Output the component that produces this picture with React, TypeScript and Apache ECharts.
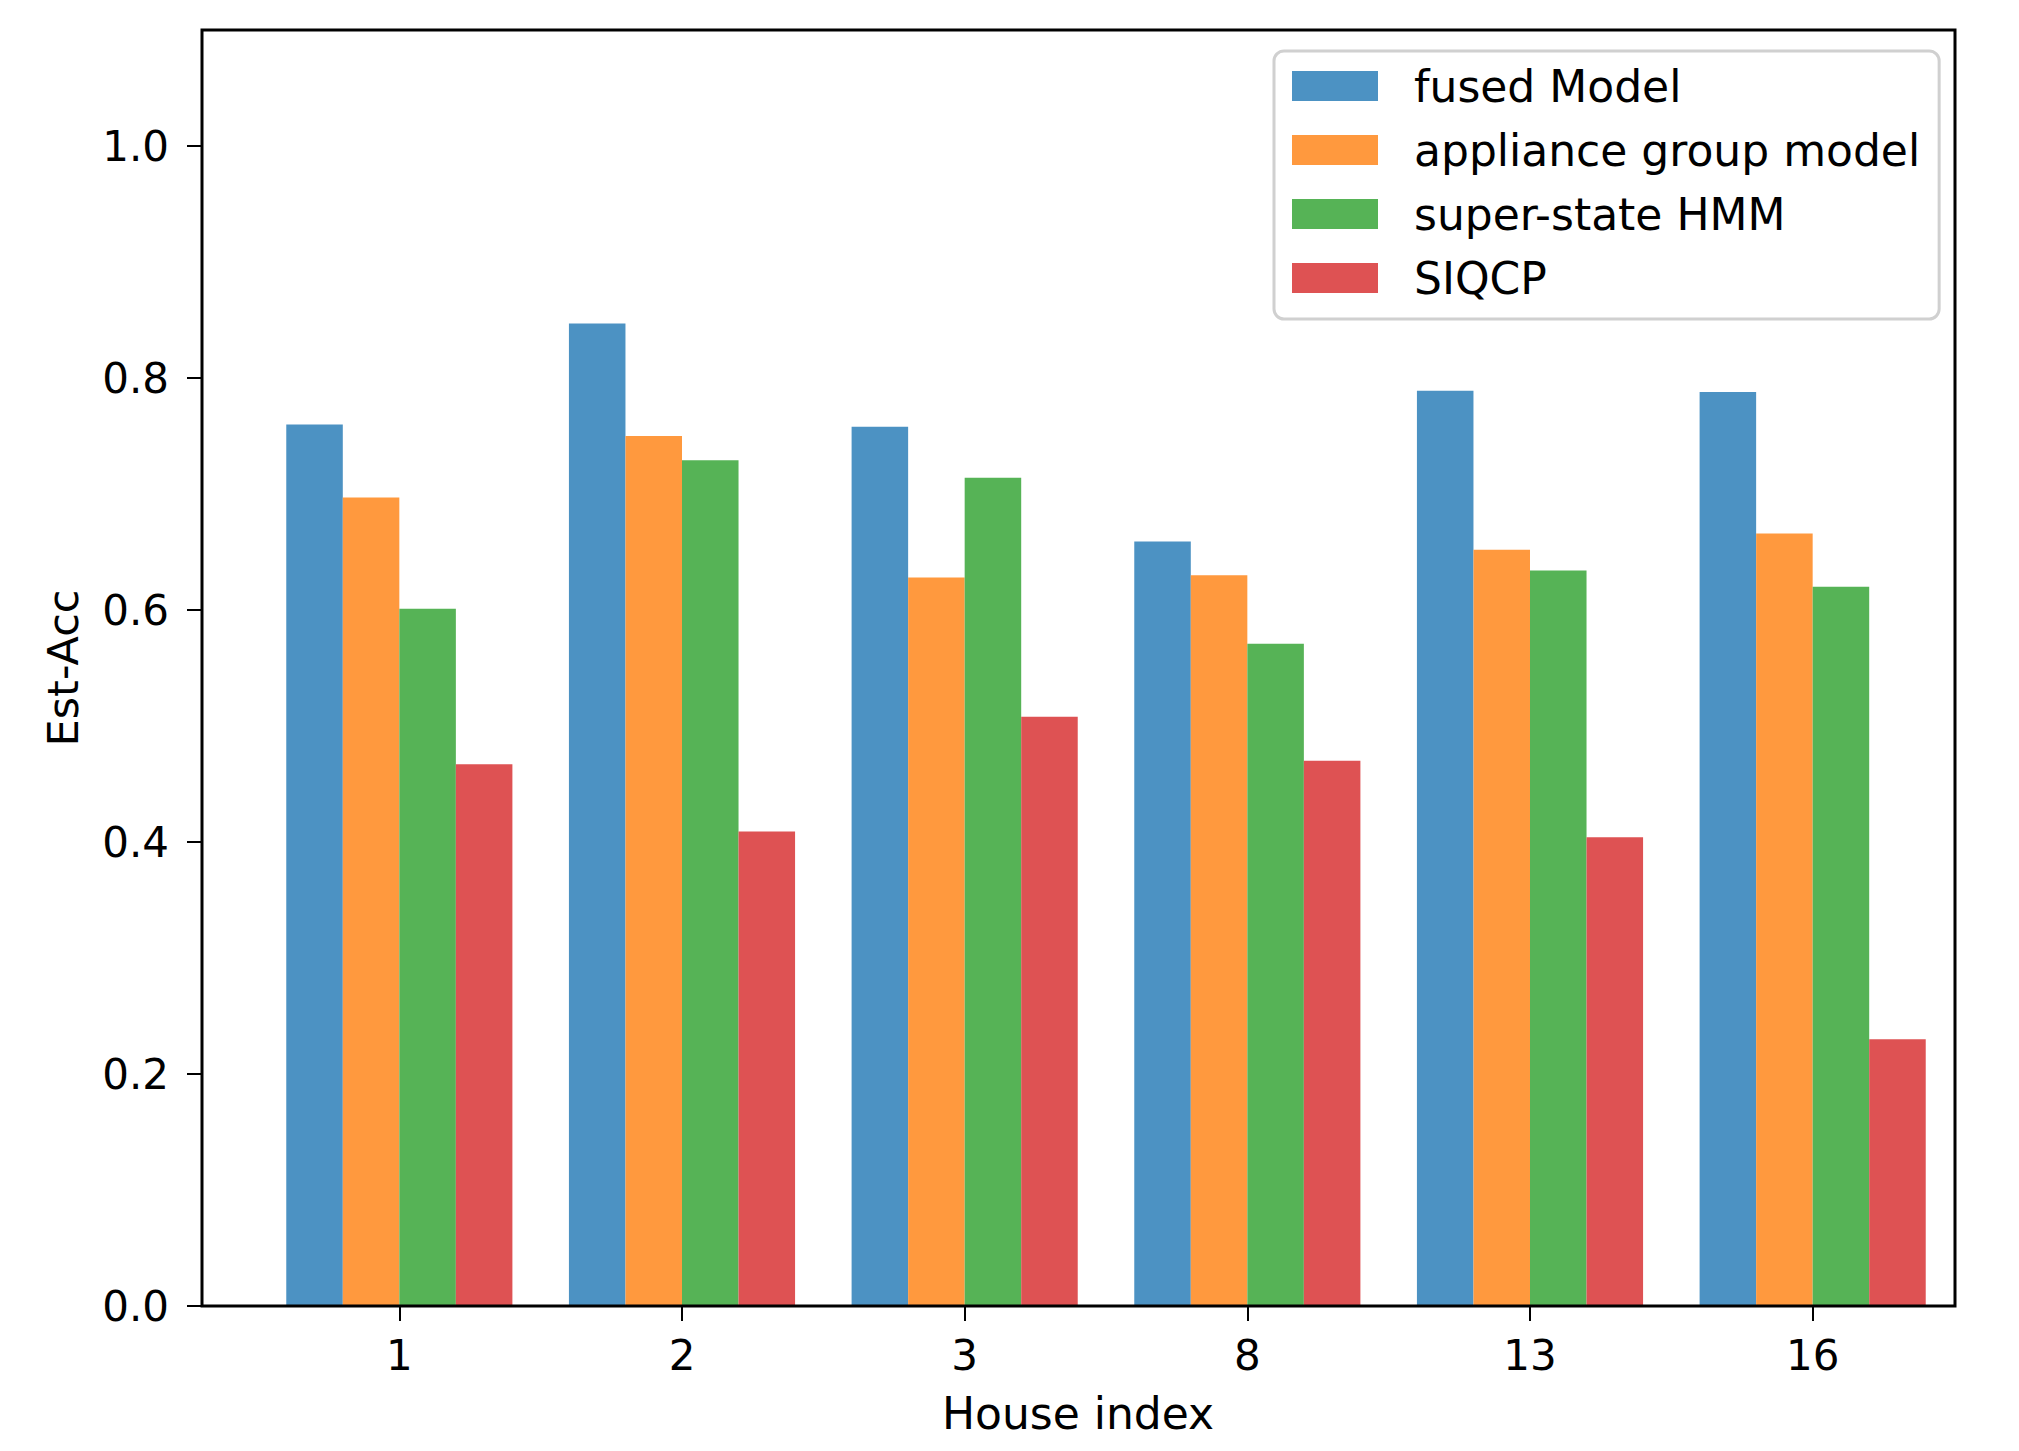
import React, { useEffect, useRef } from "react";
import * as echarts from "echarts";

const categories = ["1", "2", "3", "8", "13", "16"];
const seriesNames = ["fused Model", "appliance group model", "super-state HMM", "SIQCP"];
const fusedModel = [0.760, 0.847, 0.758, 0.659, 0.789, 0.788];
const applianceGroup = [0.697, 0.750, 0.628, 0.630, 0.652, 0.666];
const superStateHMM = [0.601, 0.729, 0.714, 0.571, 0.634, 0.620];
const siqcp = [0.467, 0.409, 0.508, 0.470, 0.404, 0.230];
const yTicks = [0, 0.2, 0.4, 0.6, 0.8, 1.0];
const colors = ["#4c92c3", "#ff993e", "#56b356", "#de5253"];

const FONT = "DejaVu Sans";

export default function App() {
  const ref = useRef<HTMLDivElement>(null);
  useEffect(() => {
    if (!ref.current) return;
    const chart = echarts.init(ref.current, null, { renderer: "svg" });
    const values = [fusedModel, applianceGroup, superStateHMM, siqcp];
    chart.setOption({
      animation: false,
      backgroundColor: "#ffffff",
      textStyle: { fontFamily: FONT, color: "#000" },
      grid: { left: 258, right: 65, top: 30, bottom: 145, containLabel: false },
      graphic: [
        {
          type: "rect",
          z: 100,
          shape: { x: 202, y: 30, width: 1753, height: 1276 },
          style: { fill: "none", stroke: "#000", lineWidth: 3 },
          silent: true,
        },
      ],
      legend: {
        orient: "vertical",
        left: 1274,
        top: 51,
        data: seriesNames,
        icon: "rect",
        itemWidth: 86,
        itemHeight: 30,
        itemGap: 20,
        padding: [13, 19, 19, 18],
        backgroundColor: "#ffffff",
        borderColor: "#d0d0d0",
        borderWidth: 3,
        borderRadius: 10,
        textStyle: {
          fontFamily: FONT,
          fontSize: 44,
          color: "#000",
          padding: [0, 0, 0, 31],
        },
      },
      xAxis: {
        type: "category",
        data: categories,
        name: "House index",
        nameLocation: "middle",
        nameGap: 85,
        nameTextStyle: { fontFamily: FONT, fontSize: 44, color: "#000", padding: [0, 56, 0, 0] },
        axisLine: { show: false },
        axisTick: { show: true, alignWithLabel: true, length: 15, lineStyle: { color: "#000", width: 2 } },
        axisLabel: { fontFamily: FONT, fontSize: 42, color: "#000", margin: 28 },
        splitLine: { show: false },
      },
      yAxis: {
        type: "value",
        min: 0,
        max: 1.1,
        offset: 56,
        name: "Est-Acc",
        nameLocation: "middle",
        nameRotate: 90,
        nameGap: 118,
        nameTextStyle: { fontFamily: FONT, fontSize: 43, color: "#000" },
        axisLine: { show: false },
        axisTick: { show: true, length: 15, lineStyle: { color: "#000", width: 2 }, customValues: yTicks },
        axisLabel: {
          fontFamily: FONT,
          fontSize: 42,
          color: "#000",
          margin: 33,
          customValues: yTicks,
          formatter: (v: number) => v.toFixed(1),
        },
        splitLine: { show: false },
      },
      series: seriesNames.map((name, i) => ({
        name,
        type: "bar",
        data: values[i],
        barGap: "0%",
        barCategoryGap: "20%",
        itemStyle: { color: colors[i] },
      })),
    });
    return () => chart.dispose();
  }, []);
  return (
    <div
      ref={ref}
      style={{ position: "absolute", left: 0, top: 0, width: 2019, height: 1451 }}
    />
  );
}
